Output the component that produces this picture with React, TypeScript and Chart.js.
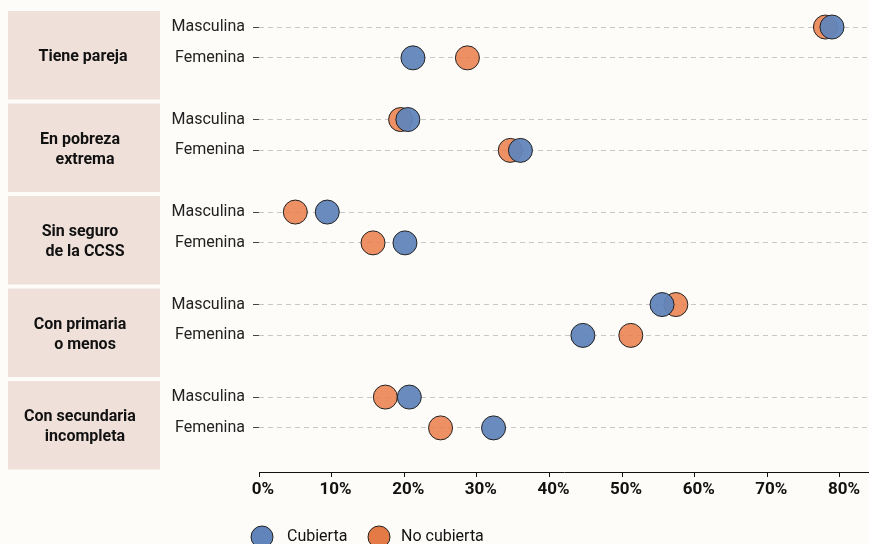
import React, { useEffect, useRef } from "react";
import { Chart, registerables } from "chart.js";

Chart.register(...registerables);

const groupLabels: string[][] = [
  ["Tiene pareja"],
  ["En pobreza", "extrema"],
  ["Sin seguro", "de la CCSS"],
  ["Con primaria", "o menos"],
  ["Con secundaria", "incompleta"],
];
const rowLabels = ["Masculina", "Femenina"];
const seriesNames = ["Cubierta", "No cubierta"];
const cubiertaMasc = [78.9, 20.5, 9.4, 55.5, 20.7];
const cubiertaFem = [21.2, 36.0, 20.1, 44.6, 32.3];
const noCubMasc = [78.0, 19.5, 5.0, 57.4, 17.4];
const noCubFem = [28.7, 34.6, 15.7, 51.2, 25.0];
const xTicks = [0, 10, 20, 30, 40, 50, 60, 70, 80];

const BLUE = "rgba(98,133,187,0.95)";
const ORANGE = "rgba(234,124,74,0.85)";
const BLUE_SOLID = "#6185ba";
const ORANGE_SOLID = "#e47a46";
const FONT = "Roboto, 'Noto Sans', sans-serif";

function toPoints(masc: number[], fem: number[]) {
  const pts: { x: number; y: number }[] = [];
  masc.forEach((v, i) => {
    pts.push({ x: v, y: i * 3 });
    pts.push({ x: fem[i], y: i * 3 + 1 });
  });
  return pts;
}

const panelPlugin = {
  id: "panels",
  beforeDraw(chart: any) {
    const { ctx, scales } = chart;
    const y = scales.y;
    ctx.save();
    ctx.fillStyle = "#fdfcf9";
    ctx.fillRect(0, 0, chart.width, chart.height);
    groupLabels.forEach((lines, i) => {
      const top = y.getPixelForValue(i * 3 - 0.52);
      const bottom = y.getPixelForValue(i * 3 + 2.35);
      ctx.fillStyle = "#efe0da";
      ctx.fillRect(8, top, 152, bottom - top);
      ctx.fillStyle = "#111";
      ctx.font = "bold 16px " + FONT;
      ctx.textAlign = "center";
      ctx.textBaseline = "middle";
      const cy = (top + bottom) / 2 + 2;
      const lh = 20;
      lines.forEach((ln, j) => {
        const ly = cy + (j - (lines.length - 1) / 2) * lh;
        const lx = lines.length === 1 ? 83 : j === 0 ? 80 : 85;
        ctx.fillText(ln, lx, ly);
      });
    });
    ctx.restore();
  },
  afterDraw(chart: any) {
    const { ctx } = chart;
    ctx.save();
    const cy = 537;
    const items = [
      { color: BLUE_SOLID, cx: 262, tx: 287, label: seriesNames[0] },
      { color: ORANGE_SOLID, cx: 379, tx: 401, label: seriesNames[1] },
    ];
    items.forEach((it) => {
      ctx.beginPath();
      ctx.arc(it.cx, cy, 11, 0, Math.PI * 2);
      ctx.fillStyle = it.color;
      ctx.fill();
      ctx.lineWidth = 1;
      ctx.strokeStyle = "#222";
      ctx.stroke();
      ctx.fillStyle = "#111";
      ctx.font = "16px " + FONT;
      ctx.textAlign = "left";
      ctx.textBaseline = "middle";
      ctx.fillText(it.label, it.tx, cy);
    });
    ctx.restore();
  },
};

export default function App() {
  const ref = useRef<HTMLCanvasElement>(null);
  useEffect(() => {
    if (!ref.current) return;
    const chart = new Chart(ref.current, {
      type: "scatter",
      data: {
        datasets: [
          {
            label: seriesNames[0],
            data: toPoints(cubiertaMasc, cubiertaFem),
            backgroundColor: BLUE,
            borderColor: "#222",
            borderWidth: 1,
            pointRadius: 12,
            pointHoverRadius: 12,
          },
          {
            label: seriesNames[1],
            data: toPoints(noCubMasc, noCubFem),
            backgroundColor: ORANGE,
            borderColor: "#222",
            borderWidth: 1,
            pointRadius: 12,
            pointHoverRadius: 12,
          },
        ],
      },
      options: {
        responsive: false,
        animation: false,
        layout: { autoPadding: false, padding: { top: 11, right: 0, bottom: 0, left: 0 } },
        plugins: { legend: { display: false }, tooltip: { enabled: false } },
        scales: {
          x: {
            type: "linear",
            min: 0,
            max: 84,
            afterBuildTicks: (s: any) => {
              s.ticks = xTicks.map((v) => ({ value: v }));
            },
            afterFit: (s: any) => {
              s.height = 72;
              s.paddingLeft = 0;
              s.paddingRight = 0;
            },
            border: { display: true, color: "#111", width: 1 },
            grid: {
              display: true,
              drawOnChartArea: false,
              drawTicks: true,
              tickLength: 5,
              tickColor: "#111",
            },
            ticks: {
              callback: (v: any) => v + "%",
              color: "#111",
              font: { family: FONT, size: 17, weight: "bold" },
              padding: 3,
              labelOffset: 4,
              maxRotation: 0,
            },
          },
          y: {
            type: "linear",
            reverse: true,
            min: -0.52,
            max: 14.43,
            afterBuildTicks: (s: any) => {
              const t: any[] = [];
              groupLabels.forEach((_, i) => {
                t.push({ value: i * 3 });
                t.push({ value: i * 3 + 1 });
              });
              s.ticks = t;
            },
            afterFit: (s: any) => {
              s.width = 259;
              s.paddingTop = 0;
              s.paddingBottom = 0;
            },
            border: { display: false, dash: [5, 4] },
            grid: {
              display: true,
              color: "#c8c8c8",
              lineWidth: 1,
              tickLength: 6,
              tickColor: "#444",
              tickBorderDash: [],
            },
            ticks: {
              callback: (v: any) => rowLabels[Math.round(v) % 3] ?? "",
              color: "#222",
              font: { family: FONT, size: 16 },
              padding: 8,
            },
          },
        },
      },
      plugins: [panelPlugin],
    } as any);
    return () => chart.destroy();
  }, []);
  return (
    <div style={{ position: "fixed", left: 0, top: 0, width: 869, height: 544 }}>
      <canvas ref={ref} width={869} height={544} style={{ display: "block" }} />
    </div>
  );
}
